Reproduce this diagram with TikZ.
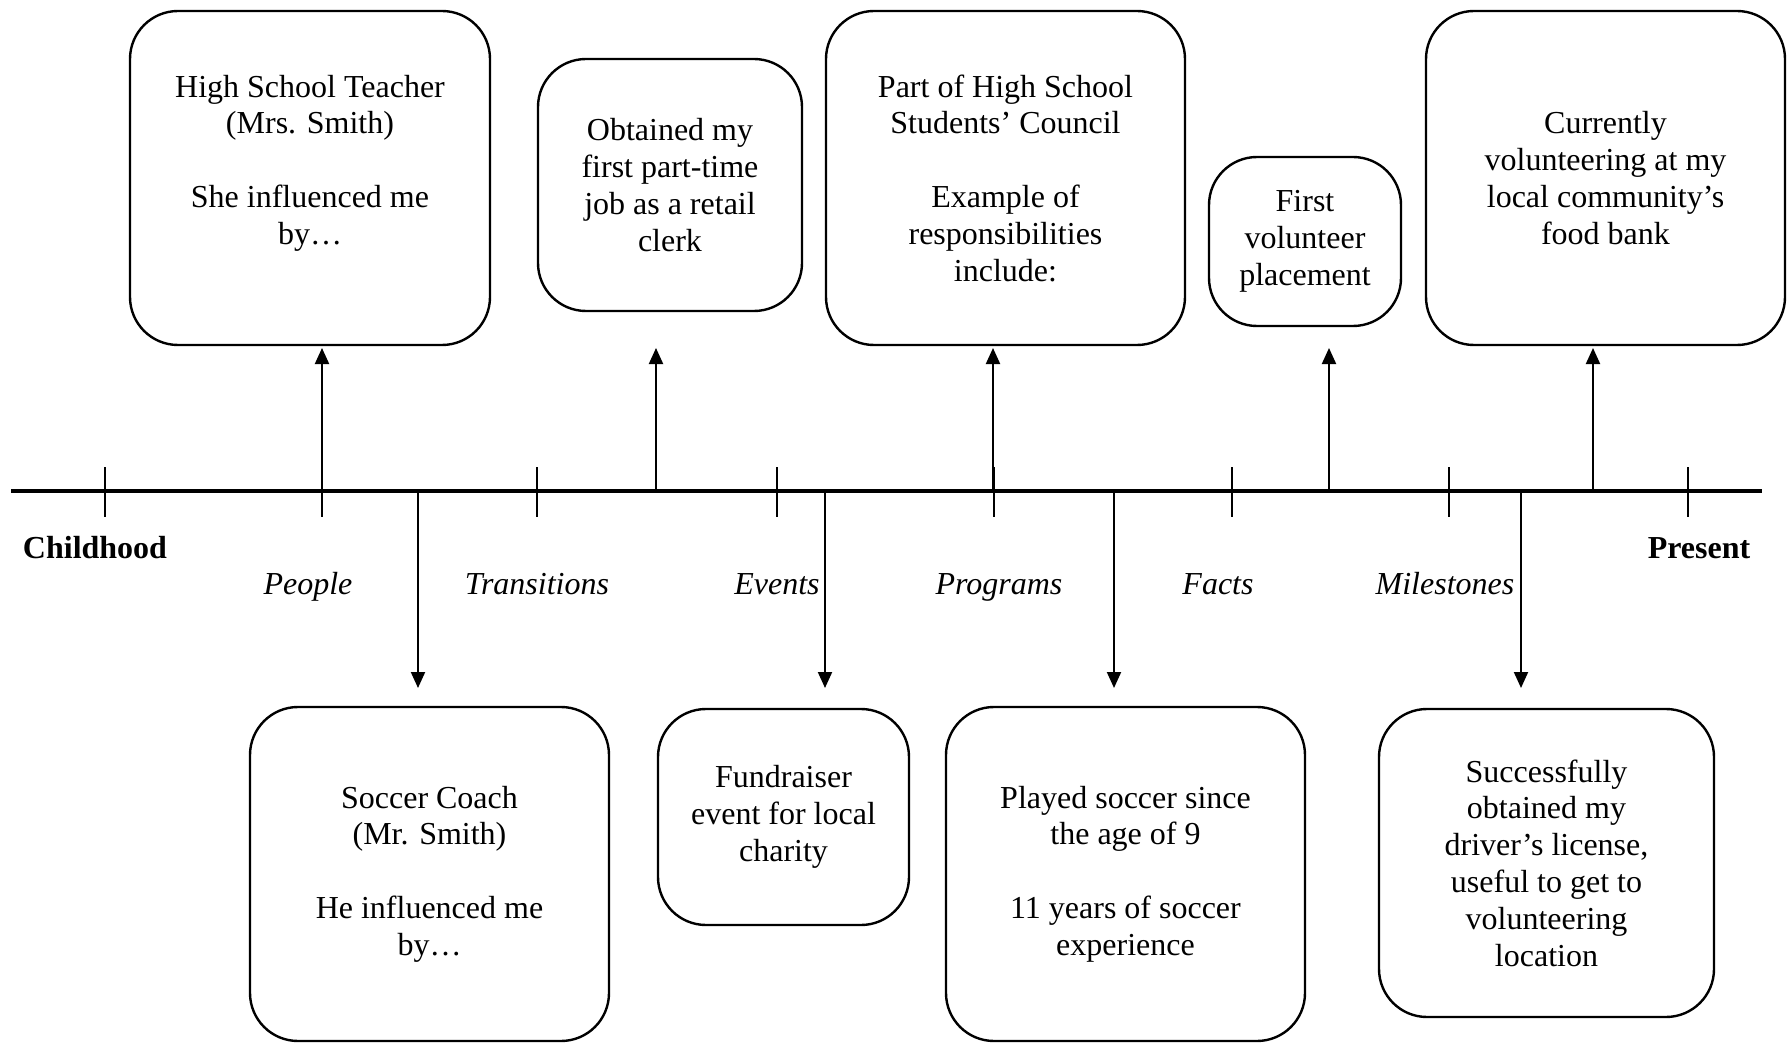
\documentclass[tikz,border=0pt]{standalone}
\usepackage{fontspec}
\setmainfont{Liberation Serif}
\usetikzlibrary{arrows.meta}
\begin{document}
\begin{tikzpicture}[x=1pt,y=-1pt,
  every node/.style={font=\fontsize{32}{36.8}\selectfont},
  evbox/.style={draw, line width=2.4pt, rounded corners=48pt, align=center, inner sep=0pt},
  axis/.style={line width=3.5pt},
  tickmark/.style={line width=2pt},
  conn/.style={line width=2pt, -{Triangle[length=16pt,width=14pt]}},
  cat/.style={anchor=base, font=\fontsize{32}{36.8}\selectfont\itshape},
  endlabel/.style={anchor=base, font=\fontsize{32}{36.8}\selectfont\bfseries}]
\useasboundingbox (0,0) rectangle (1792,1043);
\fill[white] (0,0) rectangle (1792,1043);

% boxes
\node[evbox, minimum width=360pt, minimum height=334pt] (teacher) at (310,178)
  {High School Teacher\\(Mrs. Smith)\\[36.8pt]She influenced me\\by…\\ \mbox{}};
\node[evbox, minimum width=264pt, minimum height=252pt] (job) at (670,185)
  {Obtained my\\first part-time\\job as a retail\\clerk};
\node[evbox, minimum width=359pt, minimum height=334pt] (council) at (1005.5,178)
  {Part of High School\\Students’ Council\\[36.8pt]Example of\\responsibilities\\include:};
\node[evbox, minimum width=192pt, minimum height=169pt] (firstvol) at (1305,241.5)
  {First\\volunteer\\placement};
\node[evbox, minimum width=359pt, minimum height=334pt] (foodbank) at (1605.5,178)
  {Currently\\volunteering at my\\local community’s\\food bank};
\node[evbox, minimum width=359pt, minimum height=334pt] (coach) at (429.5,874)
  {Soccer Coach\\(Mr. Smith)\\[36.8pt]He influenced me\\by…};
\node[evbox, minimum width=251pt, minimum height=216pt] (fund) at (783.5,817)
  {Fundraiser\\event for local\\charity};
\node[evbox, minimum width=359pt, minimum height=334pt] (soccer) at (1125.5,874)
  {Played soccer since\\the age of 9\\[36.8pt]11 years of soccer\\experience};
\node[evbox, minimum width=335pt, minimum height=308pt] (license) at (1546.5,863)
  {Successfully\\obtained my\\driver’s license,\\useful to get to\\volunteering\\location};

% timeline
\coordinate (tstart) at (11,491);
\coordinate (tend) at (1762,491);
\draw[axis] (tstart) -- (tend);
\foreach \x/\n in {105/a,322/b,537/c,777/d,994/e,1232/f,1449/g,1688/h}{
  \coordinate (tk\n) at (\x,467);
  \coordinate (tb\n) at (\x,517);
  \draw[tickmark] (tk\n) -- (tb\n);
}

% up arrows
\foreach \x/\n in {322/1,656/2,993/3,1329/4,1593/5}{
  \coordinate (us\n) at (\x,491);
  \coordinate (ut\n) at (\x,348);
  \draw[conn] (us\n) -- (ut\n);
}
% down arrows
\foreach \x/\n in {418/1,825/2,1114/3,1521/4}{
  \coordinate (ds\n) at (\x,491);
  \coordinate (dt\n) at (\x,688);
  \draw[conn] (ds\n) -- (dt\n);
}

% labels
\node[endlabel] (childhood) at (95,558) {Childhood};
\node[endlabel] (present) at (1699,558) {Present};
\node[cat] (people) at (308,594) {People};
\node[cat] (transitions) at (537,594) {Transitions};
\node[cat] (events) at (777,594) {Events};
\node[cat] (programs) at (999,594) {Programs};
\node[cat] (facts) at (1218,594) {Facts};
\node[cat] (milestones) at (1445,594) {Milestones};
\end{tikzpicture}
\end{document}
